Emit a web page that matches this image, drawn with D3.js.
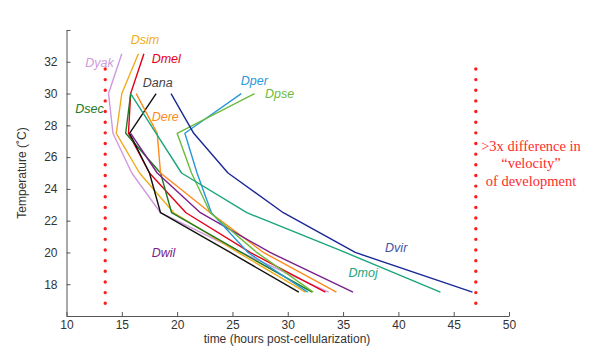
<!DOCTYPE html>
<html lang="en">
<head>
    <meta charset="UTF-8">
    <title>Development time vs temperature</title>
    <script src="https://d3js.org/d3.v7.min.js"></script>
    <style>
        body { margin: 0; background: #fff; }
        .axis path, .axis line { stroke: #555; }
        .axis text { font-family: Arial, "Liberation Sans", sans-serif; font-size: 12px; fill: #333; }
    </style>
</head>
<body>
    <svg width="600" height="352" id="mainsvg"></svg>

    <script>
        // temperature levels (°C) and hours post-cellularization per species
        const temps = [32.5, 30, 27.5, 25, 22.5, 20, 17.5]
        const species = ['Dyak', 'Dsim', 'Dmel', 'Dsec', 'Dana', 'Dere', 'Dwil', 'Dper', 'Dpse', 'Dmoj', 'Dvir']
        const Dyak = [15.0, 13.8, 14.2, 15.9, 18.5, 25.8, 33.7]
        const Dsim = [16.5, 15.0, 14.5, 16.6, 19.7, 25.5, 31.6]
        const Dmel = [17.0, 15.8, 15.6, 17.5, 20.8, 26.6, 33.4]
        const Dsec = [null, 15.8, 15.35, 18.5, 19.5, 25.8, 32.2]
        const Dana = [null, 18.1, 15.7, 17.5, 18.5, 24.8, 31.0]
        const Dere = [null, 16.3, 18.2, 18.5, 23.0, 27.8, 34.4]
        const Dwil = [null, null, 15.8, 18.2, 22.1, 28.4, 35.9]
        const Dper = [null, 25.8, 20.7, 21.8, 23.1, 26.4, 31.8]
        const Dpse = [null, 27.0, 20.0, 21.3, 23.0, 27.2, 32.3]
        const Dmoj = [null, 15.8, 18.1, 20.4, 26.3, 35.2, 43.8]
        const Dvir = [null, 19.45, 21.5, 24.6, 29.6, 36.1, 46.7]
        const seriesValues = {Dyak, Dsim, Dmel, Dsec, Dana, Dere, Dwil, Dper, Dpse, Dmoj, Dvir}

        const colors = {
            Dyak: '#cf9ade', Dsim: '#f0ac1c', Dmel: '#e2001a', Dsec: '#1f7a24', Dana: '#111111',
            Dere: '#ff8a1c', Dwil: '#7a1e8c', Dper: '#2a98d8', Dpse: '#6cbb3c', Dmoj: '#1aa57e', Dvir: '#1a2896'
        }
        const labelColors = Object.assign({}, colors, {Dana: '#444444', Dvir: '#4352a6'})
        // label anchor in data units [hours, °C]
        const labelPos = {
            Dyak: [11.7, 31.7], Dsim: [15.8, 33.1], Dmel: [17.7, 31.9], Dana: [16.9, 30.4],
            Dsec: [10.8, 28.8], Dere: [17.7, 28.25], Dper: [25.75, 30.55], Dpse: [27.95, 29.7],
            Dwil: [17.7, 19.7], Dvir: [38.8, 20.0], Dmoj: [35.5, 18.45]
        }
        const xTicks = d3.range(10, 51, 5)
        const yTicks = d3.range(16, 35, 2)
        const markerTimes = [13.5, 47]

        const svg = d3.select('#mainsvg')
        const xScale = d3.scaleLinear().domain([10, 50]).range([66.5, 509])
        const yScale = d3.scaleLinear().domain([16, 34]).range([316, 30])

        const xAxis = d3.axisBottom(xScale).tickValues(xTicks).tickSize(-4).tickSizeOuter(0).tickPadding(4)
        const yAxis = d3.axisLeft(yScale).tickValues(yTicks).tickSize(-4).tickSizeOuter(0).tickPadding(9)
            .tickFormat(d => (d === 16 || d === 34) ? '' : d)

        svg.append('g').attr('class', 'axis').attr('transform', `translate(0, ${yScale(16)})`).call(xAxis)
        svg.append('g').attr('class', 'axis').attr('transform', `translate(${xScale(10)}, 0)`).call(yAxis)

        svg.append('text').attr('x', 287).attr('y', 343)
            .attr('text-anchor', 'middle').attr('font-family', 'Arial, "Liberation Sans", sans-serif')
            .attr('font-size', 12).attr('fill', '#333').text('time (hours post-cellularization)')
        svg.append('text').attr('transform', `translate(26, ${yScale(25)}) rotate(-90)`)
            .attr('text-anchor', 'middle').attr('font-family', 'Arial, "Liberation Sans", sans-serif')
            .attr('font-size', 12).attr('fill', '#333').text('Temperature (˚C)')

        // red dotted markers
        svg.selectAll('.marker').data(markerTimes).join('line').attr('class', 'marker')
            .attr('x1', d => xScale(d)).attr('x2', d => xScale(d))
            .attr('y1', yScale(31.55)).attr('y2', yScale(16.55))
            .attr('stroke', '#ff1a1a').attr('stroke-width', 3.4)
            .attr('stroke-linecap', 'round').attr('stroke-dasharray', '0 10.65')

        const line = d3.line()
            .defined(d => d.t !== null)
            .x(d => xScale(d.t))
            .y(d => yScale(d.T))

        species.forEach(name => {
            const pts = temps.map((T, i) => ({T: T, t: seriesValues[name][i]}))
            svg.append('path').datum(pts)
                .attr('fill', 'none').attr('stroke', colors[name]).attr('stroke-width', 1.4)
                .attr('stroke-linejoin', 'round').attr('d', line)
        })

        svg.selectAll('.lbl').data(species).join('text').attr('class', 'lbl')
            .attr('x', d => xScale(labelPos[d][0])).attr('y', d => yScale(labelPos[d][1]))
            .attr('font-family', 'Arial, "Liberation Sans", sans-serif').attr('font-style', 'italic')
            .attr('font-size', 12.5).attr('fill', d => labelColors[d]).text(d => d)

        const note = ['>3x difference in', '\u201cvelocity\u201d', 'of development']
        svg.append('text').attr('text-anchor', 'middle').attr('font-family', '"Liberation Serif", "Times New Roman", serif')
            .attr('font-size', 14.5).attr('fill', '#ff2a2a')
            .selectAll('tspan').data(note).join('tspan')
            .attr('x', 531).attr('y', (d, i) => 151 + i * 17.3).text(d => d)
    </script>
</body>
</html>
